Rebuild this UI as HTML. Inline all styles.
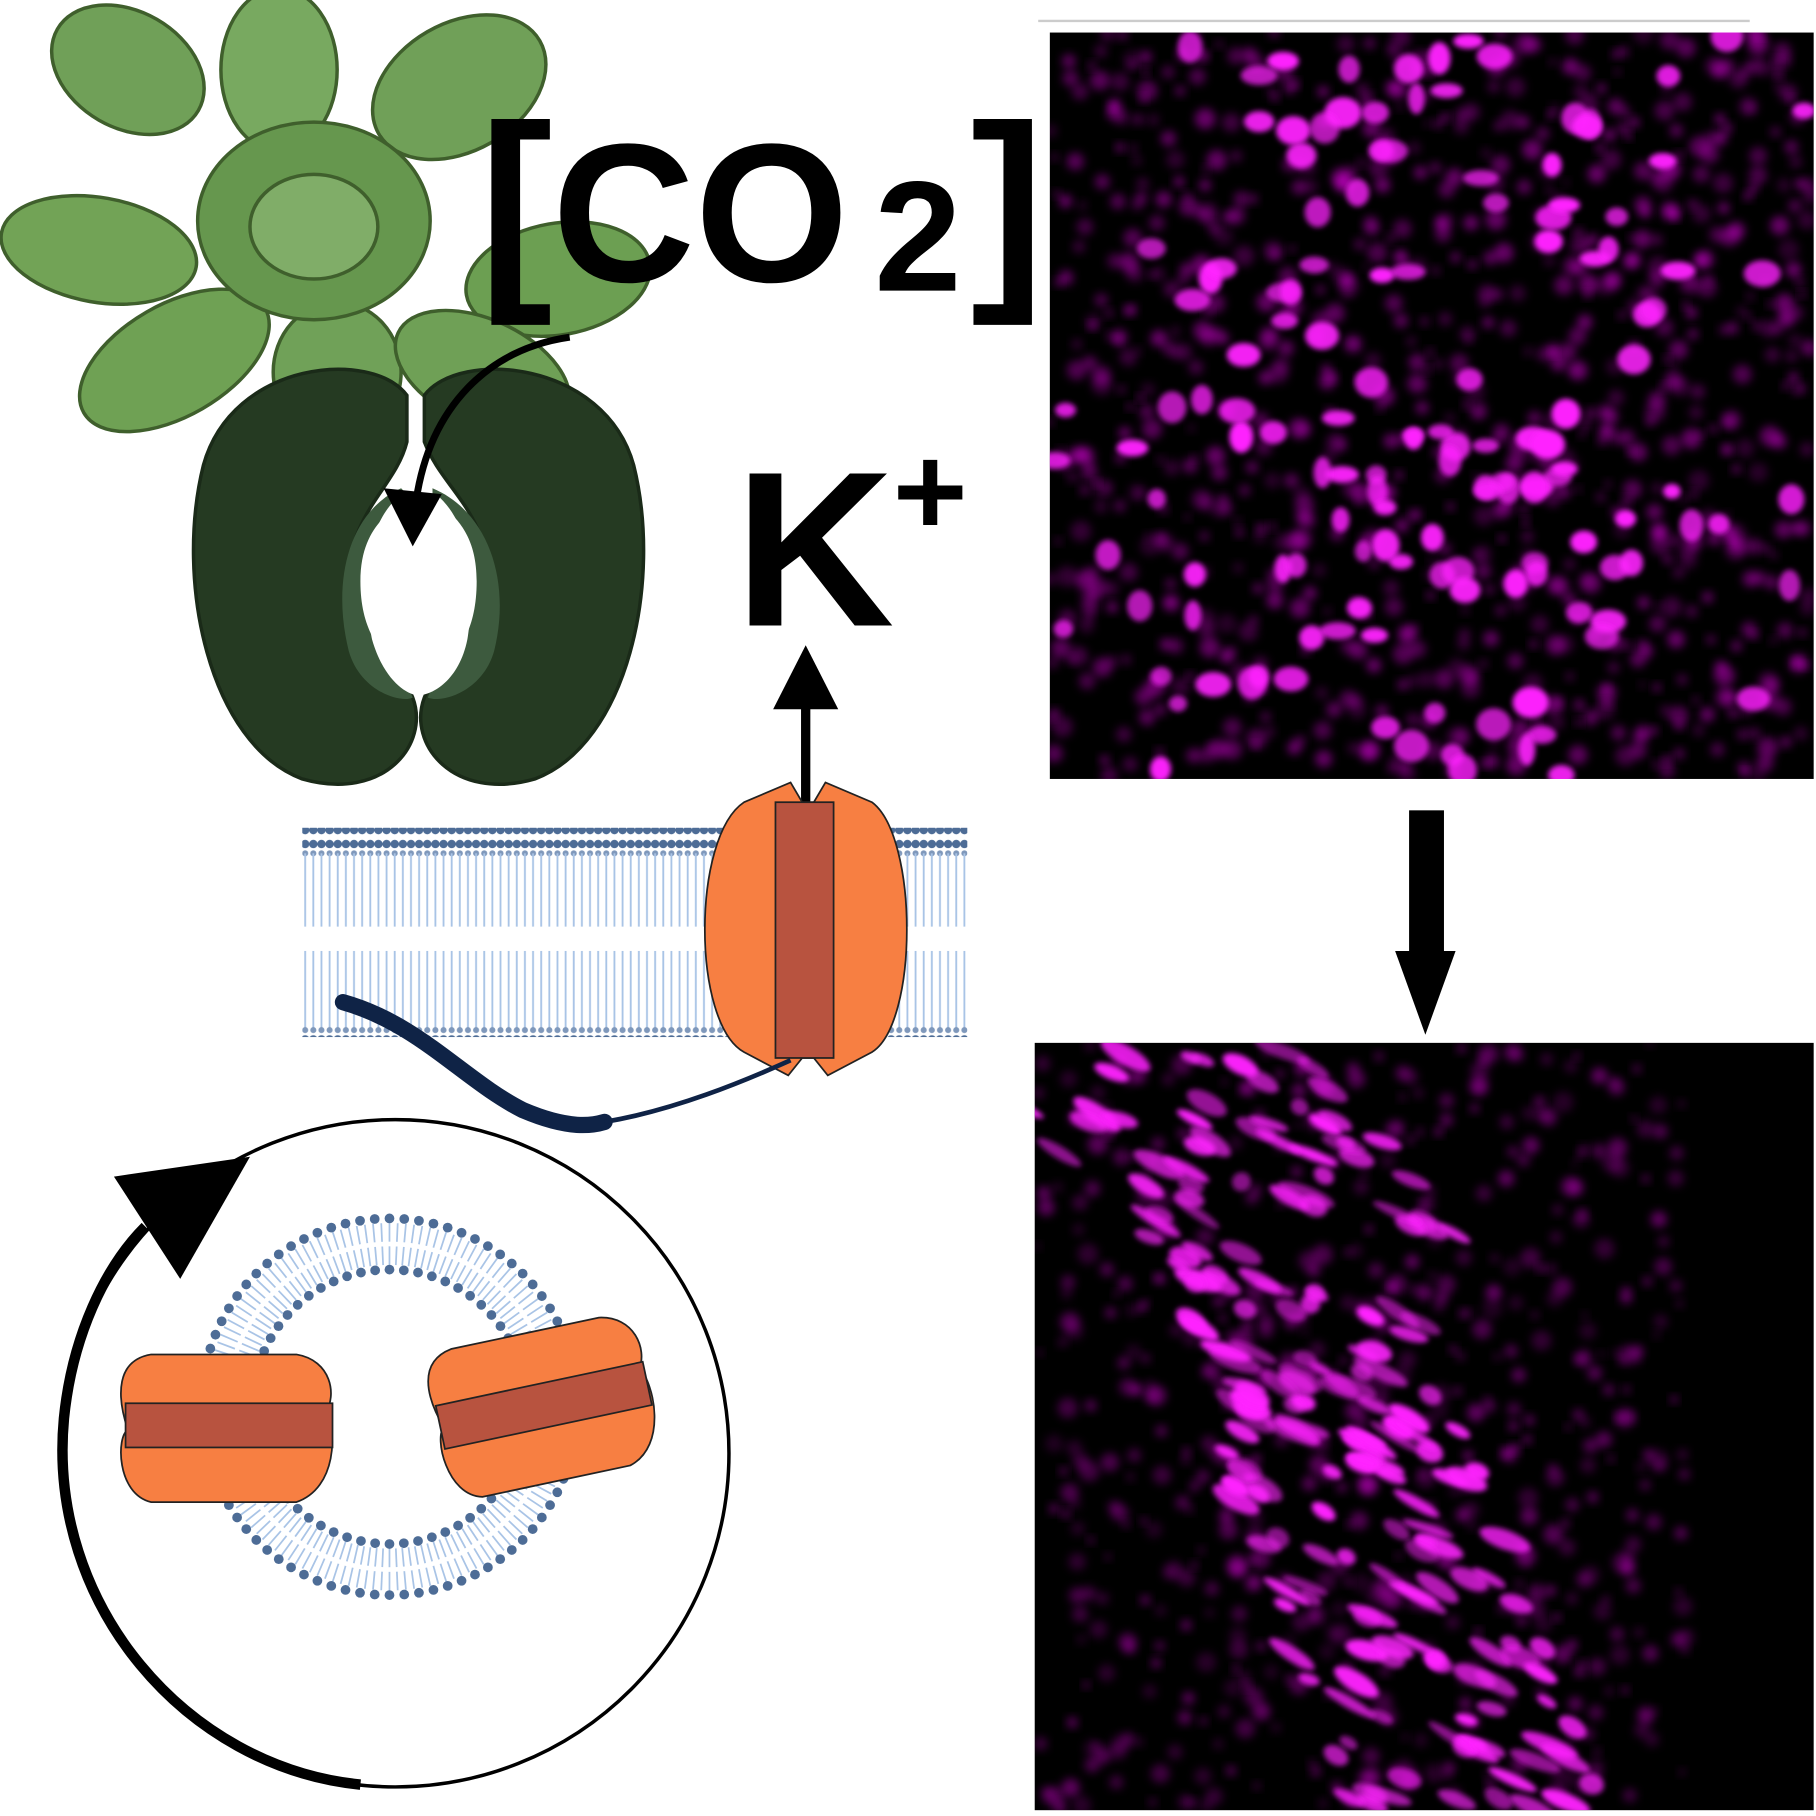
<!DOCTYPE html>
<html><head><meta charset="utf-8"><style>
html,body{margin:0;padding:0;background:#fff;}
svg{display:block;}
text{font-family:"Liberation Sans",sans-serif;font-weight:bold;fill:#000;}
</style></head><body>
<svg id="s" width="1816" height="1816" viewBox="0 0 1562 1562" xmlns="http://www.w3.org/2000/svg">
<defs>
<filter id="bl" x="-50%" y="-50%" width="200%" height="200%"><feGaussianBlur stdDeviation="2.2"/></filter>
<filter id="bl2" x="-50%" y="-50%" width="200%" height="200%"><feGaussianBlur stdDeviation="4"/></filter>
<pattern id="lipT" width="7" height="180" patternUnits="userSpaceOnUse">
<circle cx="3.5" cy="6" r="3.6" fill="#4d6c96"/>
<circle cx="3.5" cy="14" r="2.6" fill="#7f98bb"/>
<line x1="3.5" y1="14" x2="3.5" y2="82" stroke="#a9c4e6" stroke-width="1.6"/>
<line x1="3.5" y1="98" x2="3.5" y2="166" stroke="#a9c4e6" stroke-width="1.6"/>
<circle cx="3.5" cy="166" r="2.6" fill="#7f98bb"/>
<circle cx="3.5" cy="174" r="3.6" fill="#4d6c96"/>
</pattern>
</defs>
<line x1="893" y1="18" x2="1505" y2="18" stroke="#ccc" stroke-width="2"/>
<!-- plant leaves -->
<g stroke="#3f5f2c" stroke-width="3">
<ellipse cx="110" cy="60" rx="70" ry="50" fill="#70a058" transform="rotate(30 110 60)"/>
<ellipse cx="240" cy="60" rx="50" ry="70" fill="#78a960"/>
<ellipse cx="395" cy="75" rx="80" ry="55" fill="#70a058" transform="rotate(-30 395 75)"/>
<ellipse cx="85" cy="215" rx="85" ry="45" fill="#72a356" transform="rotate(10 85 215)"/>
<ellipse cx="480" cy="240" rx="80" ry="48" fill="#6c9f52" transform="rotate(-10 480 240)"/>
<ellipse cx="150" cy="310" rx="90" ry="48" fill="#6fa154" transform="rotate(-30 150 310)"/>
<ellipse cx="290" cy="320" rx="55" ry="60" fill="#70a158"/>
<ellipse cx="415" cy="320" rx="80" ry="45" fill="#6fa056" transform="rotate(25 415 320)"/>
<ellipse cx="270" cy="190" rx="100" ry="85" fill="#66974e"/>
<ellipse cx="270" cy="195" rx="55" ry="45" fill="#80ad68"/>
</g>
<!-- guard cells -->
<path d="M350,340 C320,300 200,310 175,400 C150,500 180,640 260,670 C330,690 370,640 355,600 C340,560 300,560 300,500 C300,440 340,420 350,380 Z" fill="#253a22" stroke="#1a2a18" stroke-width="3"/>
<path d="M365,340 C395,300 520,310 545,400 C570,500 540,640 460,670 C390,690 350,640 365,600 C380,560 420,560 420,500 C420,440 380,420 365,380 Z" fill="#253a22" stroke="#1a2a18" stroke-width="3"/>
<path d="M345,420 C300,440 285,500 300,560 C310,595 345,605 355,600 C345,570 310,560 310,500 C310,450 340,440 350,425Z" fill="#3d5a3e"/>
<path d="M372,420 C420,440 440,500 425,560 C415,595 380,605 368,600 C378,570 410,560 410,500 C410,450 382,440 372,425Z" fill="#3d5a3e"/>
<path d="M345,425 C315,450 310,500 320,550 C330,585 350,598 360,598 C372,598 395,585 402,550 C410,500 405,450 375,425 C365,440 355,440 345,425Z" fill="#fff"/>
<path d="M490,290 C420,300 370,350 358,430" fill="none" stroke="#000" stroke-width="6"/>
<polygon points="330,420 380,425 355,470" fill="#000"/>
<!-- CO2 -->
<text x="412" y="240" font-size="190" font-weight="normal">[</text>
<text x="475" y="242" font-size="170">CO</text>
<text x="752" y="250" font-size="135">2</text>
<text x="835" y="240" font-size="190" font-weight="normal">]</text>
<!-- K+ -->
<text x="632" y="538" font-size="190">K</text>
<text x="768" y="460" font-size="110">+</text>
<line x1="693" y1="690" x2="693" y2="600" stroke="#000" stroke-width="8"/>
<polygon points="665,610 721,610 693,555" fill="#000"/>
<!-- membrane -->
<rect x="260" y="712" width="572" height="180" fill="url(#lipT)"/>
<line x1="260" y1="802" x2="832" y2="802" stroke="#fff" stroke-width="10"/>
<!-- channel -->
<path d="M640,690 L680,673 L690,690 L700,690 L710,673 L750,690 C790,720 790,880 750,905 L712,925 L700,910 L690,910 L678,925 L640,905 C595,880 595,720 640,690Z" fill="#f77f42" stroke="#222" stroke-width="1.5"/>
<rect x="667" y="690" width="50" height="220" fill="#b8533f" stroke="#222" stroke-width="1.5"/>
<path d="M295,862 C360,880 400,930 450,955 C490,972 510,968 520,965" fill="none" stroke="#0f2346" stroke-width="14" stroke-linecap="round"/>
<path d="M520,965 C580,955 640,930 680,912" fill="none" stroke="#0f2346" stroke-width="4"/>
<!-- big circle -->
<circle cx="340" cy="1250" r="287" fill="none" stroke="#000" stroke-width="3"/>
<path d="M310,1535 C160,1520 40,1380 55,1220 C62,1150 90,1090 125,1055" fill="none" stroke="#000" stroke-width="9"/>
<polygon points="98,1012 215,995 155,1100" fill="#000"/>
<g id="ves"></g>
<g>
<path d="M130,1165 L255,1165 C285,1170 290,1200 280,1215 C290,1230 290,1280 255,1292 L130,1292 C100,1285 100,1235 110,1230 C100,1200 100,1170 130,1165Z" fill="#f77f42" stroke="#222" stroke-width="1.5"/>
<rect x="108" y="1207" width="178" height="38" fill="#b8533f" stroke="#222" stroke-width="1.5"/>
</g>
<g transform="rotate(-12 467 1210)">
<path d="M400,1145 L530,1145 C560,1150 565,1180 555,1195 C565,1210 565,1265 530,1275 L400,1275 C370,1268 370,1215 380,1210 C370,1180 370,1150 400,1145Z" fill="#f77f42" stroke="#222" stroke-width="1.5"/>
<rect x="377" y="1190" width="182" height="38" fill="#b8533f" stroke="#222" stroke-width="1.5"/>
</g>
<rect x="903" y="28" width="657" height="642" fill="#000"/>
<rect x="890" y="897" width="670" height="660" fill="#000"/>
<clipPath id="c1"><rect x="903" y="28" width="657" height="642"/></clipPath>
<clipPath id="c2"><rect x="890" y="897" width="670" height="660"/></clipPath>
<g id="m1" clip-path="url(#c1)"></g>
<g id="m2" clip-path="url(#c2)"></g>
<rect x="1212" y="697" width="30" height="125" fill="#000"/>
<polygon points="1200,818 1252,818 1226,890" fill="#000"/>
</svg>
<script>
var NS="http://www.w3.org/2000/svg";
var seed=7;function r(){seed=(seed*16807)%2147483647;return seed/2147483647;}
function el(p,t,a){var e=document.createElementNS(NS,t);for(var k in a)e.setAttribute(k,a[k]);p.appendChild(e);return e;}
var v=document.getElementById("ves");var cx=335,cy=1210;
for(var i=0;i<140;i++){var a=i/140*Math.PI*2,c=Math.cos(a),s=Math.sin(a);
el(v,"line",{x1:cx+c*122,y1:cy+s*122,x2:cx+c*138,y2:cy+s*138,stroke:"#a9c4e6","stroke-width":1.5});
el(v,"line",{x1:cx+c*142,y1:cy+s*142,x2:cx+c*158,y2:cy+s*158,stroke:"#a9c4e6","stroke-width":1.5});}
for(var i=0;i<80;i++){var a=i/80*Math.PI*2;el(v,"circle",{cx:cx+Math.cos(a)*162,cy:cy+Math.sin(a)*162,r:4.2,fill:"#4d6c96"});}
for(var i=0;i<60;i++){var a=i/60*Math.PI*2;el(v,"circle",{cx:cx+Math.cos(a)*118,cy:cy+Math.sin(a)*118,r:4.2,fill:"#4d6c96"});}
var m1=document.getElementById("m1");
for(var i=0;i<900;i++){var x=903+r()*657,y=28+r()*642;el(m1,"circle",{cx:x,cy:y,r:3+r()*6,fill:"#ff00ff","fill-opacity":0.15+r()*0.25,filter:"url(#bl2)"});}
for(var i=0;i<140;i++){var x=903+657*(0.5+(r()+r()+r()-1.5)*0.45),y=28+r()*642;el(m1,"ellipse",{cx:x,cy:y,rx:7+r()*9,ry:6+r()*8,fill:"#ff22ff","fill-opacity":0.7+r()*0.3,filter:"url(#bl)"});}
var m2=document.getElementById("m2");
for(var i=0;i<600;i++){var x=890+r()*560,y=897+r()*660;el(m2,"circle",{cx:x,cy:y,r:3+r()*6,fill:"#ff00ff","fill-opacity":0.12+r()*0.25,filter:"url(#bl2)"});}
for(var i=0;i<200;i++){var t=r();var y=897+t*660;var xc=1030+t*240+(r()-0.5)*220;if(t<0.25)xc=960+t*700+(r()-0.5)*300;el(m2,"ellipse",{cx:xc,cy:y,rx:8+r()*18,ry:4+r()*5,fill:"#ff22ff","fill-opacity":0.5+r()*0.5,filter:"url(#bl)",transform:"rotate("+(15+r()*20)+" "+xc+" "+y+")"});}
</script>
</body></html>
